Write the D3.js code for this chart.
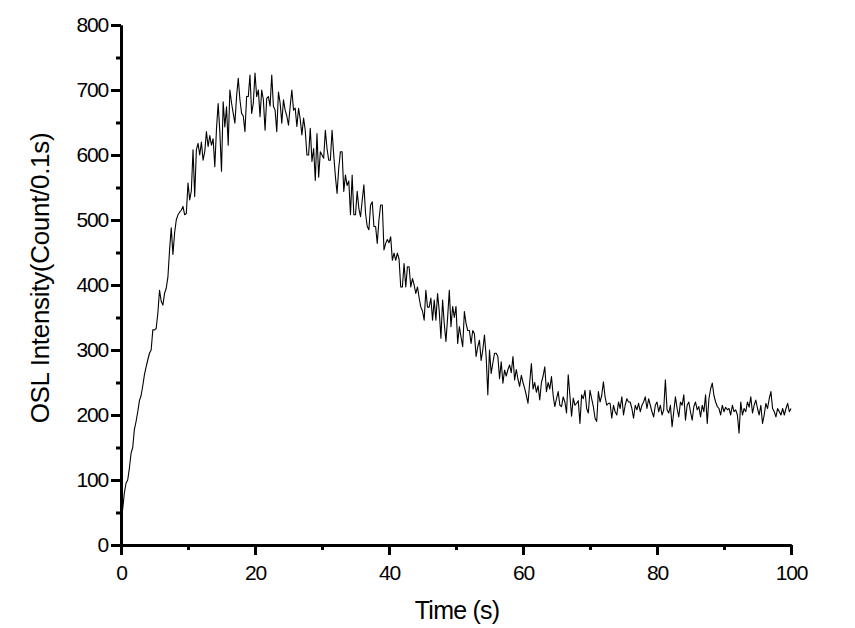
<!DOCTYPE html>
<html>
<head>
<meta charset="utf-8">
<script src="https://cdn.jsdelivr.net/npm/d3@7"></script>
<style>
  html, body { margin: 0; padding: 0; background: #fff; }
  svg { display: block; }
  text { font-family: "Liberation Sans", Arial, sans-serif; fill: #000; }
</style>
</head>
<body>
<div id="chart"></div>
<script>
// ---- data ----
const timeStep = 0.25; // seconds between samples
const intensity = [
  35, 55, 80, 95,
  100, 118, 141, 150,
  178, 190, 205, 222,
  230, 245, 262, 274,
  285, 295, 300, 331,
  331, 333, 357, 392,
  375, 369, 387, 395,
  412, 454, 488, 447,
  480, 500, 508, 512,
  515, 521, 508, 510,
  557, 531, 545, 608,
  536, 608, 618, 600,
  620, 592, 605, 636,
  613, 630, 615, 625,
  582, 640, 679, 636,
  575, 682, 643, 674,
  615, 700, 680, 664,
  649, 690, 718, 685,
  664, 660, 636, 690,
  690, 723, 664, 680,
  726, 690, 700, 659,
  700, 685, 638, 687,
  690, 675, 723, 675,
  669, 636, 697, 680,
  649, 685, 669, 660,
  646, 675, 700, 669,
  672, 644, 672, 655,
  631, 657, 638, 600,
  600, 641, 590, 610,
  561, 633, 566, 605,
  600, 595, 638, 610,
  592, 592, 638, 600,
  567, 541, 580, 605,
  605, 544, 569, 553,
  560, 508, 569, 508,
  508, 544, 518, 505,
  530, 554, 510, 490,
  485, 523, 528, 490,
  490, 464, 500, 523,
  523, 454, 464, 470,
  465, 474, 438, 449,
  438, 449, 440, 397,
  397, 433, 397, 428,
  428, 397, 410, 400,
  387, 397, 380, 366,
  360, 346, 392, 366,
  366, 380, 346, 377,
  346, 387, 360, 318,
  377, 340, 313, 350,
  392, 336, 367, 350,
  367, 310, 336, 320,
  305, 359, 341, 330,
  330, 310, 330, 325,
  290, 305, 315, 284,
  300, 323, 290, 231,
  300, 264, 280, 295,
  295, 290, 256, 282,
  249, 269, 260, 270,
  277, 265, 290, 254,
  270, 255, 244, 261,
  250, 241, 230, 218,
  250, 279, 240, 250,
  235, 245, 223, 250,
  260, 274, 236, 250,
  240, 259, 230, 213,
  225, 236, 215, 213,
  228, 220, 203, 262,
  230, 198, 226, 215,
  218, 222, 187, 231,
  225, 238, 210, 203,
  238, 225, 213, 195,
  190, 236, 220, 230,
  251, 228, 215, 218,
  218, 195, 215, 205,
  200, 220, 210, 228,
  200, 215, 225, 220,
  220, 210, 195, 215,
  208, 218, 205, 215,
  220, 228, 210, 225,
  215, 205, 197, 215,
  220, 205, 215, 200,
  208, 254, 208, 203,
  215, 182, 205, 228,
  210, 197, 220, 215,
  231, 192, 215, 220,
  205, 192, 213, 220,
  208, 213, 197, 215,
  205, 231, 187, 225,
  240, 249, 230, 220,
  213, 210, 200, 215,
  205, 212, 208, 210,
  200, 215, 205, 208,
  200, 172, 220, 200,
  210, 205, 220, 212,
  228, 203, 215, 223,
  210, 200, 215, 187,
  200, 218, 210, 225,
  236, 210, 205, 197,
  210, 205, 200, 210,
  200, 210, 218, 205,
  210
];
const xMajorTicks = [0, 20, 40, 60, 80, 100];
const xMinorTicks = [10, 30, 50, 70, 90];
const yMajorTicks = [0, 100, 200, 300, 400, 500, 600, 700, 800];
const yMinorTicks = [50, 150, 250, 350, 450, 550, 650, 750];
const xTitle = "Time (s)";
const yTitle = "OSL Intensity(Count/0.1s)";

// ---- drawing ----
const W = 855, H = 628;
const svg = d3.select("#chart").append("svg").attr("width", W).attr("height", H);

// the original figure is cropped just right of the last tick label
svg.append("defs").append("clipPath").attr("id", "figclip")
  .append("rect").attr("x", 0).attr("y", 0).attr("width", 808).attr("height", H);

const root = svg.append("g").attr("clip-path", "url(#figclip)");

const x = d3.scaleLinear().domain([0, 100]).range([121, 791]);
const y = d3.scaleLinear().domain([0, 800]).range([545, 25]);

const points = intensity.map((v, i) => [i * timeStep, v]);

// data line
root.append("path")
  .datum(points)
  .attr("fill", "none")
  .attr("stroke", "#000")
  .attr("stroke-width", 1.1)
  .attr("stroke-linejoin", "round")
  .attr("d", d3.line().x(d => x(d[0])).y(d => y(d[1])));

function styleAxis(g) {
  g.selectAll("path.domain").attr("stroke", "#000").attr("stroke-width", 3);
  g.selectAll(".tick line").attr("stroke", "#000").attr("stroke-width", 3);
  g.selectAll("text").style("font-family", '"Liberation Sans", Arial, sans-serif')
    .style("font-size", "21px").style("letter-spacing", "-1.2px").attr("fill", "#000");
}

// x axis minor
const gxm = root.append("g").attr("transform", `translate(0,${y(0)})`)
  .call(d3.axisBottom(x).tickValues(xMinorTicks).tickSize(5).tickSizeOuter(0).tickFormat(""));
styleAxis(gxm);
// x axis major
const gx = root.append("g").attr("transform", `translate(0,${y(0)})`)
  .call(d3.axisBottom(x).tickValues(xMajorTicks).tickSize(10).tickSizeOuter(0).tickPadding(10).tickFormat(d3.format("d")));
styleAxis(gx);

// y axis minor
const gym = root.append("g").attr("transform", `translate(${x(0)},0)`)
  .call(d3.axisLeft(y).tickValues(yMinorTicks).tickSize(5).tickSizeOuter(0).tickFormat(""));
styleAxis(gym);
// y axis major
const gy = root.append("g").attr("transform", `translate(${x(0)},0)`)
  .call(d3.axisLeft(y).tickValues(yMajorTicks).tickSize(10).tickSizeOuter(0).tickPadding(3).tickFormat(d3.format("d")));
styleAxis(gy);

// titles
root.append("text")
  .attr("x", 457).attr("y", 619)
  .attr("text-anchor", "middle")
  .style("font-size", "25px").style("letter-spacing", "-0.8px")
  .text(xTitle);

root.append("text")
  .attr("transform", `translate(49,278) rotate(-90)`)
  .attr("text-anchor", "middle")
  .style("font-size", "26px").style("letter-spacing", "-0.3px")
  .text(yTitle);
</script>
</body>
</html>
